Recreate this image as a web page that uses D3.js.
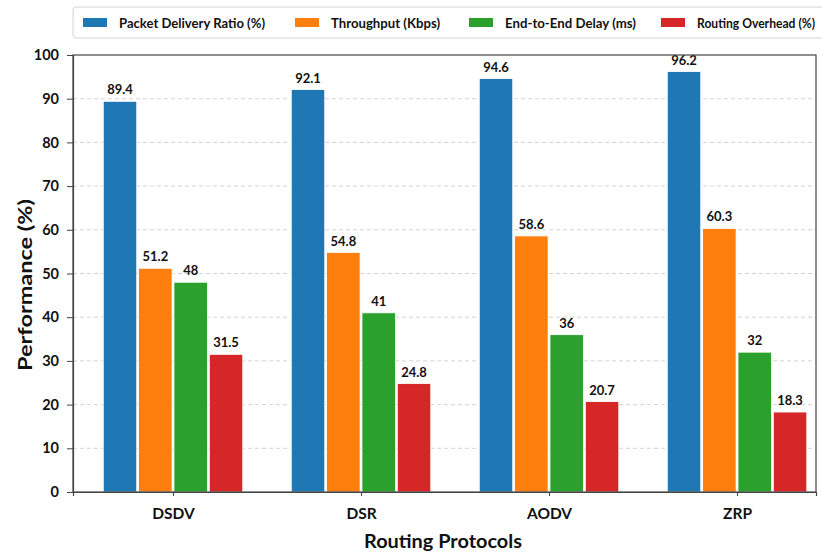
<!DOCTYPE html>
<html>
<head>
<meta charset="utf-8">
<script src="https://cdn.jsdelivr.net/npm/d3@7"></script>
<style>
  html, body { margin: 0; padding: 0; background: #fff; }
  svg { display: block; font-family: Lato, "Open Sans", sans-serif; }
</style>
</head>
<body>
<svg id="chart" width="822" height="552"></svg>
<script>
// Routing protocol comparison
const protocols = ["DSDV", "DSR", "AODV", "ZRP"];
const seriesNames = ["Packet Delivery Ratio (%)", "Throughput (Kbps)", "End-to-End Delay (ms)", "Routing Overhead (%)"];
const pdr = [89.4, 92.1, 94.6, 96.2];
const throughput = [51.2, 54.8, 58.6, 60.3];
const delay = [48, 41, 36, 32];
const overhead = [31.5, 24.8, 20.7, 18.3];
const yTicks = [0, 10, 20, 30, 40, 50, 60, 70, 80, 90, 100];
const colors = ["#1f77b4", "#ff7f0e", "#2ca02c", "#d62728"];

const series = [pdr, throughput, delay, overhead];

const svg = d3.select("#chart");
const plot = { left: 73, right: 816, top: 55, bottom: 492 };

// Category index -> pixel (group centres one unit apart)
const x = d3.scaleLinear().domain([-0.532, 3.42]).range([plot.left, plot.right]);
const y = d3.scaleLinear().domain([0, 100]).range([plot.bottom, plot.top]);

const barStep = 0.188;   // in category units
const barWidth = 0.178;

// Dashed horizontal grid
svg.append("g")
  .selectAll("line")
  .data(yTicks.filter(t => t > 0 && t < 100))
  .join("line")
  .attr("x1", plot.left).attr("x2", plot.right)
  .attr("y1", d => y(d)).attr("y2", d => y(d))
  .attr("stroke", "#c8c8c8")
  .attr("stroke-width", 0.8)
  .attr("stroke-dasharray", "4,3");

// Bars and value labels
series.forEach((vals, s) => {
  const g = svg.append("g");
  const offset = (s - 1.5) * barStep;
  g.selectAll("rect")
    .data(vals)
    .join("rect")
    .attr("x", (d, i) => x(i + offset - barWidth / 2))
    .attr("width", x(barWidth) - x(0))
    .attr("y", d => y(d))
    .attr("height", d => y(0) - y(d))
    .attr("fill", colors[s])
    .attr("stroke", "#ffffff")
    .attr("stroke-width", 0.8);
  g.selectAll("text")
    .data(vals)
    .join("text")
    .attr("x", (d, i) => x(i + offset))
    .attr("y", d => y(d) - 7)
    .attr("text-anchor", "middle")
    .attr("font-size", 13)
    .attr("font-weight", 700)
    .attr("fill", "#111")
    .text(d => String(d));
});

// Frame
svg.append("rect")
  .attr("x", plot.left).attr("y", plot.top)
  .attr("width", plot.right - plot.left)
  .attr("height", plot.bottom - plot.top)
  .attr("fill", "none")
  .attr("stroke", "#444")
  .attr("stroke-width", 1.2);

// Y axis
const yAxis = svg.append("g")
  .attr("transform", `translate(${plot.left},0)`)
  .call(d3.axisLeft(y).tickValues(yTicks).tickSize(6).tickPadding(8).tickFormat(d3.format("d")));
yAxis.select(".domain").attr("stroke", "#444").attr("stroke-width", 1.2);
yAxis.selectAll(".tick line").attr("stroke", "#444");
yAxis.selectAll("text")
  .attr("font-family", "Lato, sans-serif")
  .attr("font-size", 14.5)
  .attr("font-weight", 700)
  .attr("fill", "#111");

// X axis
const xAxis = svg.append("g")
  .attr("transform", `translate(0,${plot.bottom})`)
  .call(d3.axisBottom(x).tickValues(d3.range(protocols.length)).tickSize(4).tickPadding(12)
    .tickFormat(i => protocols[i]));
xAxis.select(".domain").attr("stroke", "#444").attr("stroke-width", 1.2);
xAxis.selectAll(".tick line").attr("stroke", "#444");
xAxis.selectAll("text")
  .attr("font-family", "Lato, sans-serif")
  .attr("font-size", 15.5)
  .attr("font-weight", 700)
  .attr("fill", "#111");

// Axis titles
svg.append("text")
  .attr("transform", "translate(32,285) rotate(-90)")
  .attr("text-anchor", "middle")
  .attr("font-size", 19.5)
  .attr("font-weight", 700)
  .attr("fill", "#111")
  .attr("textLength", 172)
  .attr("lengthAdjust", "spacingAndGlyphs")
  .text("Performance (%)");

svg.append("text")
  .attr("x", 443).attr("y", 548)
  .attr("text-anchor", "middle")
  .attr("font-size", 19.5)
  .attr("font-weight", 700)
  .attr("fill", "#111")
  .attr("textLength", 158)
  .attr("lengthAdjust", "spacingAndGlyphs")
  .text("Routing Protocols");

// Legend
const legend = svg.append("g");
legend.append("rect")
  .attr("x", 73).attr("y", 7).attr("width", 770).attr("height", 31)
  .attr("rx", 3)
  .attr("fill", "#fff")
  .attr("stroke", "#d4d4d4");
const legendX = [83, 295, 469, 661];
const legendW = [146, 109, 131, 118];
seriesNames.forEach((name, s) => {
  legend.append("rect")
    .attr("x", legendX[s]).attr("y", 18)
    .attr("width", 24).attr("height", 9)
    .attr("fill", colors[s]);
  legend.append("text")
    .attr("x", legendX[s] + 36).attr("y", 27.5)
    .attr("font-size", 13)
    .attr("font-weight", 700)
    .attr("fill", "#111")
    .attr("textLength", legendW[s])
    .attr("lengthAdjust", "spacingAndGlyphs")
    .text(name);
});
</script>
</body>
</html>
